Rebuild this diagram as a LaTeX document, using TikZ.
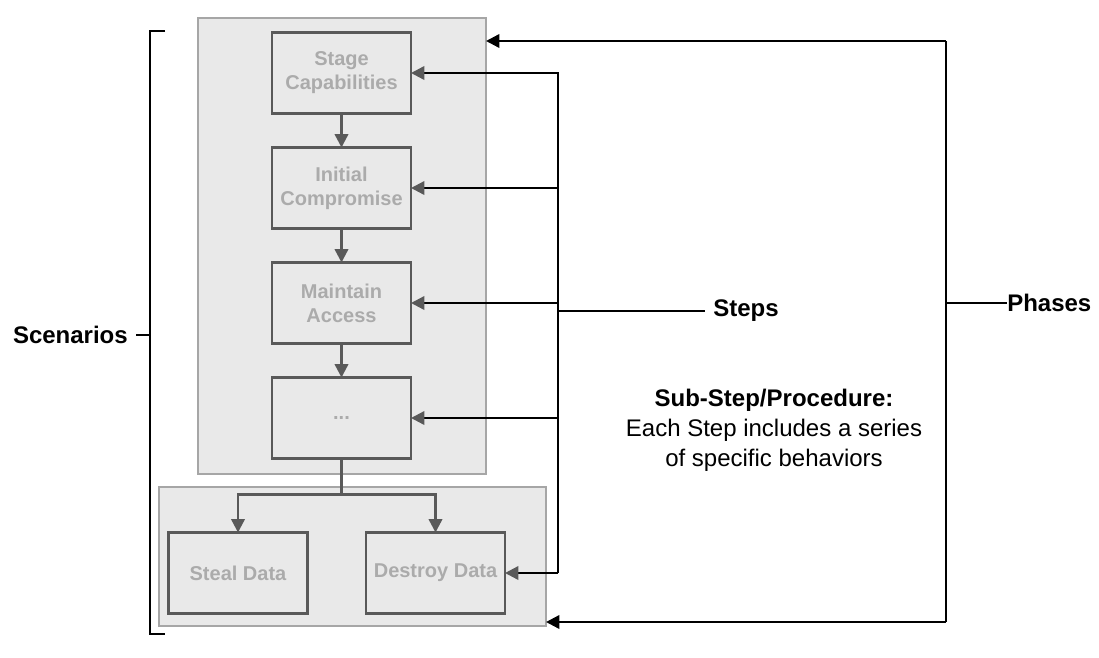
\documentclass[tikz,border=0pt]{standalone}
\usepackage{fontspec}
\setmainfont{Liberation Sans}
\usetikzlibrary{arrows.meta, positioning}
\definecolor{grpfill}{HTML}{E9E9E9}
\definecolor{grpline}{HTML}{A6A6A6}
\definecolor{boxline}{HTML}{595959}
\definecolor{boxtext}{HTML}{ABABAB}

\begin{document}
\begin{tikzpicture}[
        x=0.75pt, y=-0.75pt,
        font=\fontsize{18}{22.5}\selectfont, node distance=25.5pt,
        group/.style={draw=grpline, fill=grpfill, line width=1.6pt, outer sep=0pt, anchor=north west},
        stepbox/.style={draw=boxline, fill=grpfill, line width=1.8pt, outer sep=0pt, minimum width=104.25pt, minimum height=60.75pt, align=center, text=boxtext, font=\fontsize{15}{18}\selectfont\bfseries},
        arr/.style={-{Triangle[length=10pt, width=10pt]}, boxline, line width=1.8pt},
        bus/.style={black, line width=1.8pt},
        busarr/.style={bus, -{Triangle[length=10pt, width=10pt, color=boxline]}},
        phasearr/.style={bus, -{Triangle[length=10pt, width=10pt]}},
        lbl/.style={font=\fontsize{18}{22.5}\selectfont\bfseries, inner ysep=0pt}
    ]
        \useasboundingbox (0,0) rectangle (1099,657);

        \node[group, minimum width=216pt, minimum height=342pt] (phase) at (198,18) {};
        \node[group, minimum width=290.25pt, minimum height=104.25pt] (outcome) at (159,487) {};

        \node[stepbox] (stage) at (341.5,73) {Stage\\Capabilities};
        \node[stepbox, below=of stage]    (init)     {Initial\\Compromise};
        \node[stepbox, below=of init]     (maintain) {Maintain\\Access};
        \node[stepbox, below=of maintain] (dots)     {...};
        \node[stepbox] (steal)   at (238,573)   {Steal Data};
        \node[stepbox] (destroy) at (435.5,573) {Destroy Data};

        \draw[arr] (stage)    -- (init);
        \draw[arr] (init)     -- (maintain);
        \draw[arr] (maintain) -- (dots);
        \draw[boxline, line width=1.8pt] (dots.south) -- ++(0,36) coordinate (split);
        \draw[arr] (split) -| (steal);
        \draw[arr] (split) -| (destroy);

        \coordinate (stop) at (558,72);
        \coordinate (sbot) at (558,573);
        \draw[bus] (stop) -- (sbot);
        \draw[busarr] (stage.east -| stop)    -- (stage.east);
        \draw[busarr] (init.east -| stop)     -- (init.east);
        \draw[busarr] (maintain.east -| stop) -- (maintain.east);
        \draw[busarr] (dots.east -| stop)     -- (dots.east);
        \draw[busarr] (destroy.east -| stop)  -- (destroy.east);

        \node[lbl, anchor=west, inner xsep=6pt] (steps) at (705,311) {Steps};
        \draw[bus] (steps.west -| stop) -- (steps.west);

        \coordinate (ptop) at (946,41);
        \coordinate (pbot) at (946,622);
        \draw[bus] (ptop) -- (pbot);
        \draw[phasearr] (ptop) -- (ptop -| phase.east);
        \draw[phasearr] (pbot) -- (pbot -| outcome.east);
        \node[lbl, anchor=west, inner xsep=0pt] (phases) at (1007,303) {Phases};
        \draw[bus] (phases.west -| ptop) -- (phases.west);

        \draw[bus] (165,31) -- (150,31) -- (150,634) -- (165,634);
        \node[lbl, anchor=east, inner xsep=6pt] (scen) at (136,335) {Scenarios};
        \draw[bus] (scen.east -| 150,0) -- (scen.east);

        \node[align=center] (sub) at (774,430) {\textbf{Sub-Step/Procedure:}\\Each Step includes a series\\of specific behaviors};
    \end{tikzpicture}
\end{document}
